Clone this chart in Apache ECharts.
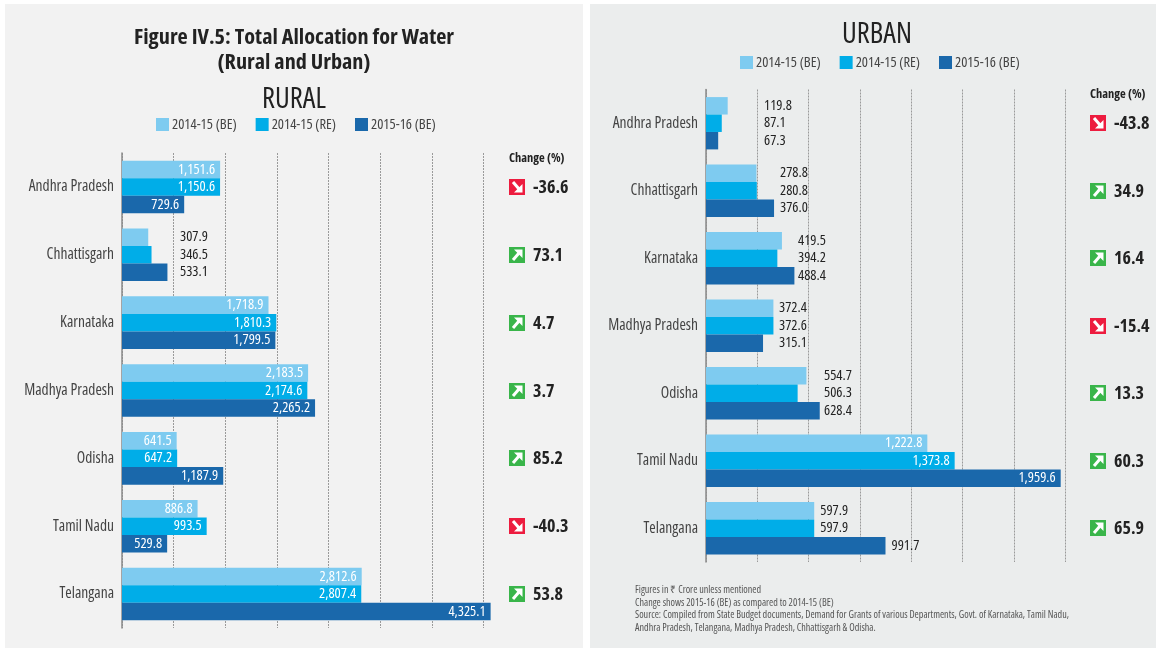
<!DOCTYPE html>
<html>
<head>
<meta charset="utf-8">
<style>
  html, body { margin: 0; padding: 0; background: #fff; }
  #main { width: 1156px; height: 648px; }
</style>
<script src="https://cdn.jsdelivr.net/npm/echarts@6/dist/echarts.min.js"></script>
</head>
<body>
<div id="main"></div>
<script>
const states = ["Andhra Pradesh", "Chhattisgarh", "Karnataka", "Madhya Pradesh", "Odisha", "Tamil Nadu", "Telangana"];
const seriesNames = ["2014-15 (BE)", "2014-15 (RE)", "2015-16 (BE)"];

const ruralBE1415 = [1151.6, 307.9, 1718.9, 2183.5, 641.5, 886.8, 2812.6];
const ruralRE1415 = [1150.6, 346.5, 1810.3, 2174.6, 647.2, 993.5, 2807.4];
const ruralBE1516 = [729.6, 533.1, 1799.5, 2265.2, 1187.9, 529.8, 4325.1];
const ruralChange = [-36.6, 73.1, 4.7, 3.7, 85.2, -40.3, 53.8];

const urbanBE1415 = [119.8, 278.8, 419.5, 372.4, 554.7, 1222.8, 597.9];
const urbanRE1415 = [87.1, 280.8, 394.2, 372.6, 506.3, 1373.8, 597.9];
const urbanBE1516 = [67.3, 376.0, 488.4, 315.1, 628.4, 1959.6, 991.7];
const urbanChange = [-43.8, 34.9, 16.4, -15.4, 13.3, 60.3, 65.9];

const footnotes = [
  "Figures in ₹ Crore unless mentioned",
  "Change shows 2015-16 (BE) as compared to 2014-15 (BE)",
  "Source: Compiled from State Budget documents, Demand for Grants of various Departments, Govt. of Karnataka, Tamil Nadu,",
  "Andhra Pradesh, Telangana, Madhya Pradesh, Chhattisgarh & Odisha."
];

// Open Sans has a condensed face, reachable through the font shorthand
const FONT = '"Open Sans", sans-serif';
const NARROW = "condensed";
const NARROW_BOLD = "bold condensed";
const colors = ["#7ecbf0", "#00ade8", "#1a68ab"];
const fmt = (v) => v.toLocaleString("en-US", { minimumFractionDigits: 1, maximumFractionDigits: 1 });

// the two panels: same layout, different scale. labelColumn = where outside labels
// start for a state (the source lines them up by hand), null = inside the bar / next to it
const panels = [
  {
    values: [ruralBE1415, ruralRE1415, ruralBE1516], change: ruralChange,
    left: 122, top: 153, width: 375, height: 475, max: 4400, interval: 606,
    labelColumn: [null, 180, null, null, null, null, null],
    inside: [true, false, true, true, true, true, true],
    iconX: 509
  },
  {
    values: [urbanBE1415, urbanRE1415, urbanBE1516], change: urbanChange,
    left: 706, top: 89.5, width: 362, height: 472.5, max: 2000, interval: 283.5,
    labelColumn: [764, 780, 798, 779, 824, null, null],
    inside: [false, false, false, false, false, true, false],
    iconX: 1090
  }
];

function barSeries(panel, p) {
  const pxPerUnit = panel.width / panel.max;
  return panel.values.map((vals, s) => ({
    name: seriesNames[s],
    type: "bar",
    xAxisIndex: p,
    yAxisIndex: p,
    barGap: 0,
    barCategoryGap: "22.5%",
    itemStyle: { color: colors[s] },
    data: vals.map((v, i) => {
      if (panel.inside[i]) {
        return {
          value: v,
          label: { show: true, position: "insideRight", distance: 5, color: "#fff", fontFamily: FONT, fontWeight: NARROW, fontSize: 14.5, formatter: fmt(v) }
        };
      }
      const col = panel.labelColumn[i];
      const dx = col === null ? 6 : col - (panel.left + v * pxPerUnit);
      return {
        value: v,
        label: { show: true, position: "right", distance: 0, offset: [dx, 0], color: "#222", fontFamily: FONT, fontWeight: NARROW, fontSize: 14.5, formatter: fmt(v) }
      };
    })
  }));
}

const legendBase = {
  data: seriesNames,
  icon: "rect",
  itemWidth: 13,
  itemHeight: 13,
  selectedMode: false,
  textStyle: { fontFamily: FONT, fontWeight: NARROW, fontSize: 14.5, color: "#444", padding: [0, 0, 0, -2] }
};

// title boxes carry 5px of padding, so x is the visual centre minus 5
const titleText = (text, x, y, size, weight) => ({
  text,
  left: x,
  top: y,
  textAlign: "center",
  textStyle: { fontFamily: FONT, fontSize: size, fontWeight: weight, color: "#222" }
});

const options = {
  backgroundColor: "#fff",
  animation: false,
  title: [
    titleText("Figure IV.5: Total Allocation for Water", 289, 22, 22.2, NARROW_BOLD),
    titleText("(Rural and Urban)", 289, 47, 22.2, NARROW_BOLD),
    titleText("RURAL", 289, 80, 28.5, NARROW),
    titleText("URBAN", 872, 15, 28.5, NARROW)
  ],
  legend: [
    Object.assign({}, legendBase, { left: 151, top: 112, itemGap: 19 }),
    Object.assign({}, legendBase, { left: 735, top: 50, itemGap: 19 })
  ],
  grid: panels.map((p) => ({ left: p.left, top: p.top, width: p.width, height: p.height })),
  xAxis: panels.map((p, i) => ({
    type: "value",
    gridIndex: i,
    min: 0,
    max: p.max,
    interval: p.interval,
    axisLabel: { show: false },
    axisLine: { show: false },
    axisTick: { show: false },
    splitLine: { show: true, showMaxLine: false, lineStyle: { color: "#9a9a9a", type: [2, 1], width: 1 } }
  })),
  yAxis: panels.map((p, i) => ({
    type: "category",
    gridIndex: i,
    data: states,
    inverse: true,
    axisTick: { show: false },
    axisLine: { show: true, lineStyle: { color: "#8a8a8a", width: 1.5 } },
    axisLabel: { margin: 8, fontFamily: FONT, fontWeight: NARROW, fontSize: 15.5, color: "#444" }
  })),
  series: barSeries(panels[0], 0).concat(barSeries(panels[1], 1)),
  graphic: []
};

let myChart = echarts.init(document.getElementById("main"));
myChart.setOption(options);

// panel backgrounds, change column and footnotes go on as graphics,
// rows are looked up through the axis so they stay in line with the bars
function changeMark(value, x, y) {
  const up = value >= 0;
  const arrow = up
    ? { line: [[x + 4, y + 13], [x + 10, y + 6]], head: [[x + 5, y + 2.5], [x + 13.5, y + 2.5], [x + 13.5, y + 11]] }
    : { line: [[x + 4, y + 3], [x + 10, y + 10]], head: [[x + 5, y + 13.5], [x + 13.5, y + 13.5], [x + 13.5, y + 5]] };
  return [
    { type: "rect", silent: true, shape: { x, y, width: 16, height: 16 }, style: { fill: up ? "#39b54a" : "#ed1c3f" } },
    { type: "polyline", silent: true, shape: { points: arrow.line }, style: { stroke: "#fff", lineWidth: 3, fill: null } },
    { type: "polygon", silent: true, shape: { points: arrow.head }, style: { fill: "#fff" } },
    {
      type: "text", silent: true, x: x + 24, y: y + 9,
      style: { text: value.toFixed(1), fontFamily: FONT, fontSize: 18, fontWeight: NARROW_BOLD, fill: "#222", textVerticalAlign: "middle" }
    }
  ];
}

const gfx = [
  { type: "rect", silent: true, z: -10, shape: { x: 5, y: 4, width: 578, height: 644 }, style: { fill: "#f2f2f2" } },
  { type: "rect", silent: true, z: -10, shape: { x: 590, y: 4, width: 566, height: 644 }, style: { fill: "#ebeded" } }
];
panels.forEach((p, idx) => {
  const headY = idx === 0 ? 158 : 94;
  gfx.push({
    type: "text", silent: true, x: p.iconX, y: headY,
    style: { text: "Change (%)", fontFamily: FONT, fontSize: 12.5, fontWeight: NARROW_BOLD, fill: "#222", textVerticalAlign: "middle" }
  });
  p.change.forEach((c, i) => {
    const rowY = myChart.convertToPixel({ yAxisIndex: idx }, states[i]);
    gfx.push(...changeMark(c, p.iconX, Math.round(rowY) - 8));
  });
});
footnotes.forEach((line, i) => {
  gfx.push({
    type: "text", silent: true, x: 635, y: 590 + i * 12.7,
    style: { text: line, fontFamily: FONT, fontWeight: NARROW, fontSize: 10.1, fill: "#555", textVerticalAlign: "middle" }
  });
});
myChart.setOption({ graphic: gfx });
</script>
</body>
</html>
